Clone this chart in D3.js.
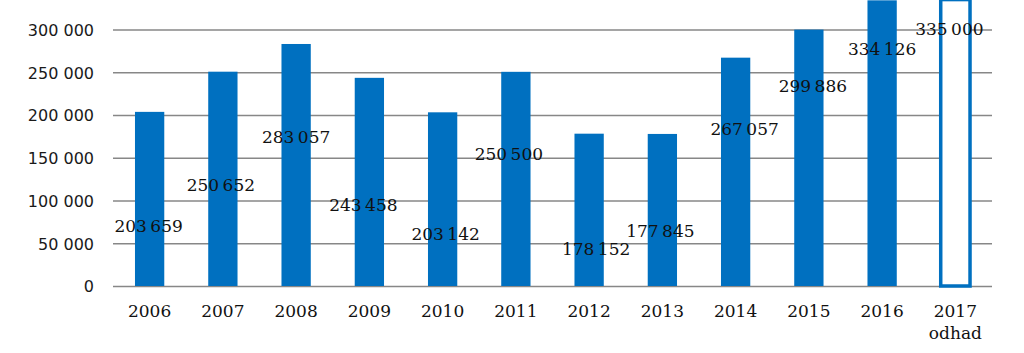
<!DOCTYPE html>
<html>
<head>
<meta charset="utf-8">
<script src="https://cdn.jsdelivr.net/npm/d3@7"></script>
<style>
  html, body { margin: 0; padding: 0; background: #ffffff; }
  svg { display: block; }
</style>
</head>
<body>
<svg id="chart" width="1024" height="353"></svg>
<script>
// ---- data ----
const years = ["2006","2007","2008","2009","2010","2011","2012","2013","2014","2015","2016","2017"];
const yearNotes = ["","","","","","","","","","","","odhad"];
const values = [203659, 250652, 283057, 243458, 203142, 250500, 178152, 177845, 267057, 299886, 334126, 335000];
const isEstimate = [false,false,false,false,false,false,false,false,false,false,false,true];
const yTicks = [0, 50000, 100000, 150000, 200000, 250000, 300000];

// ---- layout (label nudges in px from bar top/centre) ----
const labelDx = [-1, -2, 0, -6, 3, -7, 7, -2, 9, 4, 0, -6];
const labelDy = [120, 119, 99, 133, 128, 88, 121, 103, 77, 62, 55, 35];

const W = 1024, H = 353;
const plot = { left: 113, right: 992, top: 29.5, bottom: 286 };
const blue = "#0070C0";
const grid = "#878787";

const svg = d3.select("#chart");

const x = d3.scaleBand()
  .domain(years)
  .range([plot.left, plot.right])
  .paddingInner(0.6)
  .paddingOuter(0.3);

const y = d3.scaleLinear()
  .domain([0, 300000])
  .range([plot.bottom, plot.top]);

const loc = d3.formatLocale({ decimal: ",", thousands: "\u00a0", grouping: [3], currency: ["", ""] });
const fmtAxis = loc.format(",d");
const locL = d3.formatLocale({ decimal: ",", thousands: "\u2009", grouping: [3], currency: ["", ""] });
const fmtLabel = locL.format(",d");

// gridlines + y labels via axis
const yAxis = d3.axisLeft(y)
  .tickValues(yTicks)
  .tickFormat(fmtAxis)
  .tickSize(-(plot.right - plot.left))
  .tickPadding(19);

const gy = svg.append("g")
  .attr("transform", `translate(${plot.left},0)`)
  .call(yAxis);
gy.select(".domain").remove();
gy.selectAll(".tick line").attr("stroke", grid).attr("stroke-width", 1.6);
gy.selectAll(".tick text")
  .attr("fill", "#1a1a1a")
  .style("font-family", "'DejaVu Sans', sans-serif")
  .style("font-size", "16px")
  .attr("dy", "0.36em");

// bars
const data = years.map((yr, i) => ({ yr, v: values[i], est: isEstimate[i], dx: labelDx[i], dy: labelDy[i], note: yearNotes[i] }));

svg.append("g").selectAll("rect")
  .data(data)
  .join("rect")
  .attr("x", d => x(d.yr))
  .attr("y", d => y(d.v))
  .attr("width", x.bandwidth())
  .attr("height", d => y(0) - y(d.v))
  .attr("fill", d => d.est ? "#ffffff" : blue)
  .attr("stroke", d => d.est ? blue : "none")
  .attr("stroke-width", d => d.est ? 3.5 : 0);

// data labels
svg.append("g").selectAll("text")
  .data(data)
  .join("text")
  .attr("x", d => x(d.yr) + x.bandwidth() / 2 + d.dx)
  .attr("y", d => y(d.v) + d.dy)
  .attr("text-anchor", "middle")
  .attr("fill", "#111")
  .style("font-family", "'DejaVu Serif', serif")
  .style("font-size", "17px")
  .text(d => fmtLabel(d.v));

// x axis labels
const gx = svg.append("g");
gx.selectAll("text.yr")
  .data(data)
  .join("text")
  .attr("class", "yr")
  .attr("x", d => x(d.yr) + x.bandwidth() / 2)
  .attr("y", 317)
  .attr("text-anchor", "middle")
  .attr("fill", "#111")
  .style("font-family", "'DejaVu Serif', serif")
  .style("font-size", "17px")
  .text(d => d.yr);
gx.selectAll("text.note")
  .data(data.filter(d => d.note))
  .join("text")
  .attr("class", "note")
  .attr("x", d => x(d.yr) + x.bandwidth() / 2)
  .attr("y", 339)
  .attr("text-anchor", "middle")
  .attr("fill", "#111")
  .style("font-family", "'DejaVu Serif', serif")
  .style("font-size", "17px")
  .text(d => d.note);
</script>
</body>
</html>
